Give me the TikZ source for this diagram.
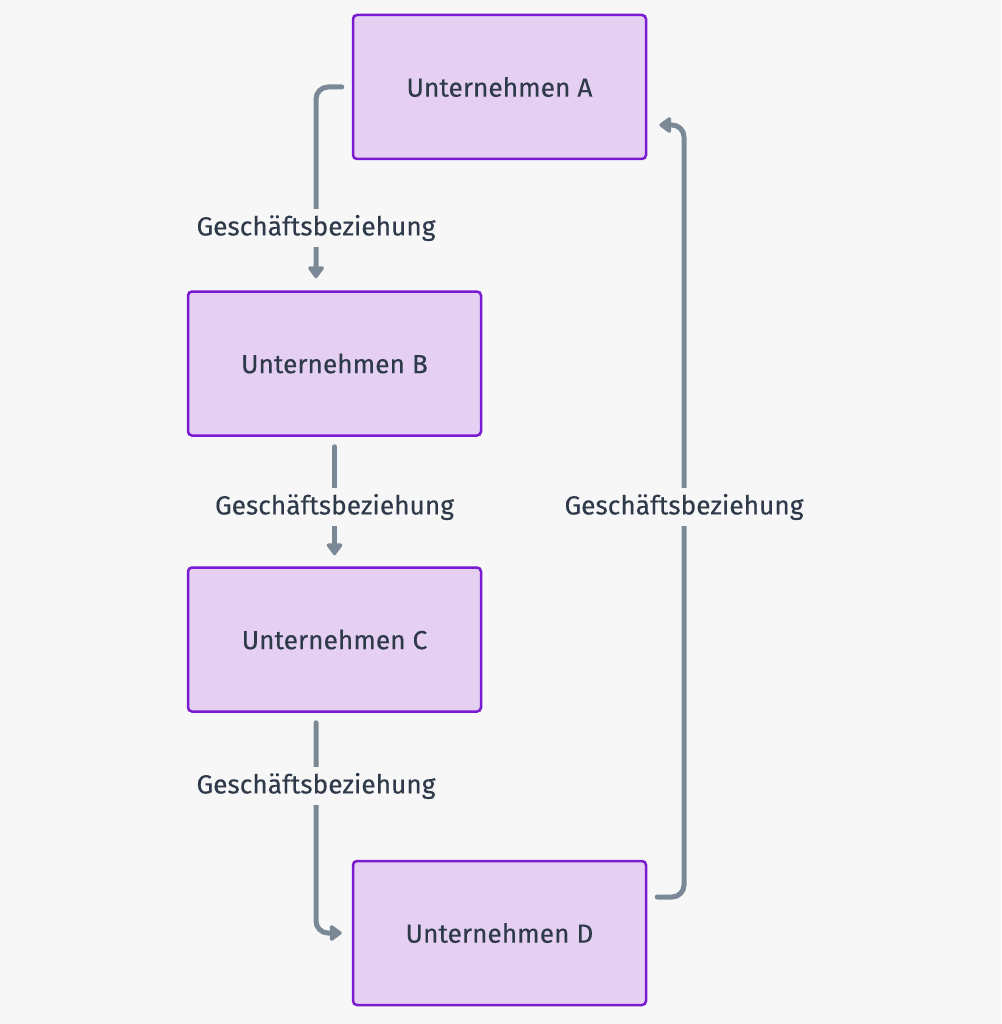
\documentclass[tikz,border=0pt]{standalone}
\usepackage{fontspec}
\setmainfont{Fira Sans}[FakeBold=0.25]
\usetikzlibrary{arrows.meta}
\definecolor{bg}{HTML}{F7F7F7}
\definecolor{boxfill}{HTML}{E5D0F3}
\definecolor{boxdraw}{HTML}{7A1BD2}
\definecolor{conn}{HTML}{7B8997}
\definecolor{txt}{HTML}{2E3A4A}
\begin{document}
\begin{tikzpicture}[x=1pt,y=-1pt,
  company/.style={draw=boxdraw, line width=2.5pt, fill=boxfill, rounded corners=4pt,
    minimum width=293pt, minimum height=144pt, text=txt, font=\fontsize{26.3}{31}\selectfont},
  link/.style={draw=conn, line width=5pt, line cap=round, rounded corners=12pt,
    -{Triangle[width=18pt,length=13pt,round]}},
  lbl/.style={fill=bg, text=txt, inner sep=6pt, font=\fontsize{26.3}{31}\selectfont}]
\fill[bg] (0,0) rectangle (1001,1024);
\node[company] (A) at (499.5,87) {Unternehmen A};
\node[company] (B) at (334.5,363.5) {Unternehmen B};
\node[company] (C) at (334.5,639.5) {Unternehmen C};
\node[company] (D) at (499.5,933) {Unternehmen D};
% A -> B
\draw[link] ([xshift=-10pt]A.west) -| ([xshift=-18.5pt,yshift=12pt]B.north);
\node[lbl] (l1) at (316,228) {Geschäftsbeziehung};
% B -> C
\draw[link] ([yshift=-10pt]B.south) -- ([yshift=11pt]C.north);
\node[lbl] (l2) at (334.5,507) {Geschäftsbeziehung};
% C -> D
\draw[link] ([xshift=-18.5pt,yshift=-10pt]C.south) |- ([xshift=-10pt]D.west);
\node[lbl] (l3) at (316,786) {Geschäftsbeziehung};
% D -> A
\draw[link] ([xshift=10pt,yshift=36pt]D.east) -| (684,400) |- ([xshift=12pt,yshift=-38pt]A.east);
\node[lbl] (l4) at (684,507) {Geschäftsbeziehung};
\end{tikzpicture}
\end{document}
